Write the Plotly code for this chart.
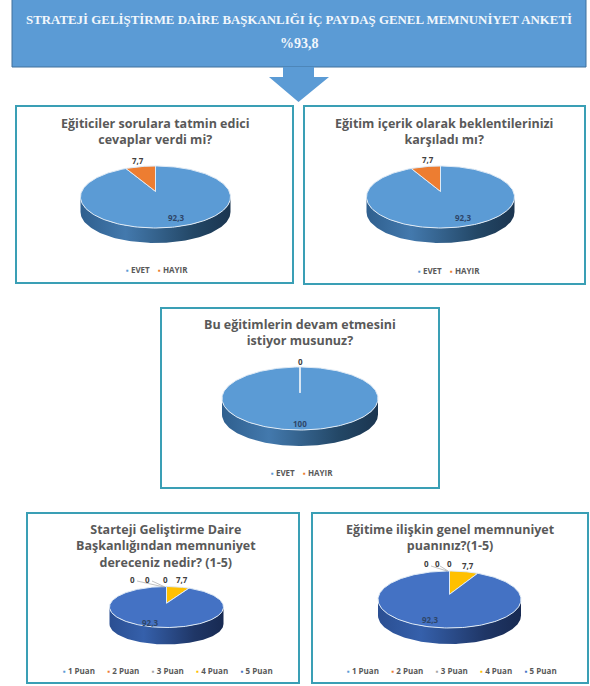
import numpy as np
import plotly.graph_objects as go

W, H = 590, 686

# ---- data ----
header_title = "STRATEJİ GELİŞTİRME DAİRE BAŞKANLIĞI İÇ PAYDAŞ GENEL MEMNUNİYET ANKETİ"
header_value = "%93,8"

yes_no_labels = ["EVET", "HAYIR"]
score_labels = ["1 Puan", "2 Puan", "3 Puan", "4 Puan", "5 Puan"]

trainers_values = [92.3, 7.7]
content_values = [92.3, 7.7]
continue_values = [100, 0]
department_values = [0, 0, 0, 7.7, 92.3]
training_values = [0, 0, 0, 7.7, 92.3]

trainers_title = "Eğiticiler sorulara tatmin edici<br>cevaplar verdi mi?"
content_title = "Eğitim içerik olarak beklentilerinizi<br>karşıladı mı?"
continue_title = "Bu eğitimlerin devam etmesini<br>istiyor musunuz?"
department_title = "Starteji Geliştirme Daire<br>Başkanlığından memnuniyet<br>dereceniz nedir? (1-5)"
training_title = "Eğitime ilişkin genel memnuniyet<br>puanınız?(1-5)"

# ---- styles and layout ----
YES_NO_COLORS = ["#5B9BD5", "#ED7D31"]
SCORE_COLORS = ["#5B9BD5", "#ED7D31", "#A5A5A5", "#FFC000", "#4472C4"]
WALL_LIGHT = [[0, "#2f5f8e"], [0.3, "#4379ad"], [0.75, "#234766"], [1, "#1b3550"]]
WALL_DARK = [[0, "#2b4f92"], [0.3, "#3560ab"], [0.75, "#1f3666"], [1, "#182a52"]]
TEAL = "#3a9fb5"
TEXT = "#595959"
PERSPECTIVE = 0.18


def px(x):
    return x / W


def py(y):
    return 1 - y / H


panels = [
    dict(values=trainers_values, labels=yes_no_labels, colors=YES_NO_COLORS, wall=WALL_LIGHT, title=trainers_title,
         box=(16, 106, 293, 283), cx=155.5, cy=197, rx=75, ry=31, depth=15, title_y=131, legend_y=269, legend_x=157,
         value_xy=[(176, 217), (138, 160)]),
    dict(values=content_values, labels=yes_no_labels, colors=YES_NO_COLORS, wall=WALL_LIGHT, title=content_title,
         box=(304, 106, 585, 284), cx=440.5, cy=197, rx=74, ry=31, depth=15, title_y=131, legend_y=270, legend_x=449,
         value_xy=[(463, 217), (428, 159)]),
    dict(values=continue_values, labels=yes_no_labels, colors=YES_NO_COLORS, wall=WALL_LIGHT, title=continue_title,
         box=(161, 308, 439, 488), cx=300, cy=398.5, rx=78, ry=31.5, depth=16, title_y=332, legend_y=473, legend_x=302,
         value_xy=[(300, 423), (300, 361)]),
    dict(values=department_values, labels=score_labels, colors=SCORE_COLORS, wall=WALL_DARK, title=department_title,
         box=(27, 513, 299, 683), cx=166.5, cy=607, rx=57, ry=20.5, depth=17, title_y=545.5, legend_y=670, legend_x=168,
         title_x=165.5, value_xy=[(132, 579), (147, 579), (165, 579), (182, 579), (150, 622)],
         leaders=[((137, 581), (164, 587)), ((152, 581), (165, 587))]),
    dict(values=training_values, labels=score_labels, colors=SCORE_COLORS, wall=WALL_DARK, title=training_title,
         box=(312, 513, 588, 683), cx=449.5, cy=599.5, rx=71.5, ry=28.5, depth=16, title_y=537, legend_y=670, legend_x=452,
         value_xy=[(426, 563), (437, 563), (449, 563), (468, 565), (430, 619)],
         leaders=[((431, 566), (447, 571)), ((440, 566), (448, 571))]),
]


def project(theta):
    """Clockwise-from-top angle on the disc to tilted-view unit coordinates."""
    k = PERSPECTIVE
    x, y = np.sin(theta), np.cos(theta)
    d = 1 + k * y
    return x / d * np.sqrt(1 - k * k), (y / d) * (1 - k * k) + k


def note(text, x, y, **font):
    return dict(text=text, x=px(x), y=py(y), xref="paper", yref="paper", showarrow=False,
                xanchor="center", yanchor="middle", align="center", font=font)


fig = go.Figure()
shapes, annotations = [], []

# Header block and arrow
shapes.append(dict(type="rect", xref="paper", yref="paper", x0=px(12), x1=px(586), y0=py(67), y1=py(-2),
                   fillcolor="#5B9BD5", line=dict(color="#41719C", width=1), layer="below"))
shapes.append(dict(type="path", xref="paper", yref="paper", layer="below", fillcolor="#5B9BD5",
                   line=dict(color="#5B9BD5", width=0),
                   path=f"M {px(283)} {py(67)} L {px(314)} {py(67)} L {px(314)} {py(77)} L {px(329)} {py(77)} "
                        f"L {px(298.5)} {py(102)} L {px(269)} {py(77)} L {px(283)} {py(77)} Z"))
annotations.append(note(f"<b>{header_title}</b>", 299, 20, family="Liberation Serif", size=12.9, color="#F2F7FC"))
annotations.append(note(f"<b>{header_value}</b>", 299, 44, family="Liberation Serif", size=14, color="#F2F7FC"))

for i, p in enumerate(panels, start=1):
    left, top, right, bottom = p["box"]
    cx, cy, rx, ry = p["cx"], p["cy"], p["rx"], p["ry"]
    shapes.append(dict(type="rect", xref="paper", yref="paper", x0=px(left), x1=px(right), y0=py(bottom), y1=py(top),
                       fillcolor="white", line=dict(color=TEAL, width=2), layer="below"))
    xa, ya = f"xaxis{i}" if i > 1 else "xaxis", f"yaxis{i}" if i > 1 else "yaxis"
    xref, yref = f"x{i}" if i > 1 else "x", f"y{i}" if i > 1 else "y"
    axis = dict(visible=False, fixedrange=True, showgrid=False, zeroline=False)
    fig.update_layout({
        xa: dict(axis, domain=[px(left), px(right)], range=[(left - cx) / rx, (right - cx) / rx]),
        ya: dict(axis, domain=[py(bottom), py(top)], range=[(cy - bottom) / ry, (cy - top) / ry]),
    })

    # Side wall of the disc
    phi = np.linspace(np.pi, 2 * np.pi, 120)
    drop = p["depth"] / ry
    wall_x = np.concatenate([np.cos(phi), np.cos(phi[::-1])])
    wall_y = np.concatenate([np.sin(phi), np.sin(phi[::-1]) - drop])
    fig.add_trace(go.Scatter(x=wall_x, y=wall_y, xaxis=xref, yaxis=yref, mode="lines", line=dict(width=0),
                             fill="toself", fillgradient=dict(type="horizontal", colorscale=p["wall"]),
                             hoverinfo="skip", showlegend=False))

    # Slices, clockwise from the top, sized by the values
    total = sum(p["values"])
    start = 0.0
    for value, label, color in zip(p["values"], p["labels"], p["colors"]):
        sweep = 2 * np.pi * value / total
        theta = np.linspace(start, start + sweep, max(2, int(240 * value / total)))
        ex, ey = project(theta)
        fig.add_trace(go.Scatter(x=np.r_[0, ex, 0], y=np.r_[PERSPECTIVE, ey, PERSPECTIVE], xaxis=xref, yaxis=yref,
                                 mode="lines", line=dict(color="#dfeaf5", width=1), fill="toself", fillcolor=color,
                                 name=label, hoverinfo="skip", showlegend=False))
        start += sweep

    # Leader lines for the crowded zero labels
    for (x0, y0), (x1, y1) in p.get("leaders", []):
        shapes.append(dict(type="line", xref="paper", yref="paper", x0=px(x0), y0=py(y0), x1=px(x1), y1=py(y1),
                           line=dict(color="#A6A6A6", width=0.7), layer="above"))

    # Title, values, legend
    annotations.append(note(f"<b>{p['title']}</b>", p.get("title_x", (left + right) / 2), p["title_y"],
                            family="Open Sans", size=12.5, color=TEXT))
    biggest = max(p["values"])
    for value, (vx, vy) in zip(p["values"], p["value_xy"]):
        annotations.append(note(f"<b>{str(value).replace('.', ',')}</b>", vx, vy, family="Open Sans", size=8,
                                color="#2f4668" if value == biggest else "#404040"))
    many = len(p["labels"]) > 2
    gap = "&#160;" * (6 if many else 4)
    legend = gap.join(f'<span style="color:{c}">▪</span> <b>{l}</b>' for l, c in zip(p["labels"], p["colors"]))
    annotations.append(note(legend, p["legend_x"], p["legend_y"], family="Open Sans", size=8, color=TEXT))

fig.update_layout(width=W, height=H, margin=dict(l=0, r=0, t=0, b=0), paper_bgcolor="white", plot_bgcolor="rgba(0,0,0,0)",
                  showlegend=False, shapes=shapes, annotations=annotations)

fig.write_html("out.html", post_script="document.body.style.margin='0';", config=dict(displayModeBar=False))
